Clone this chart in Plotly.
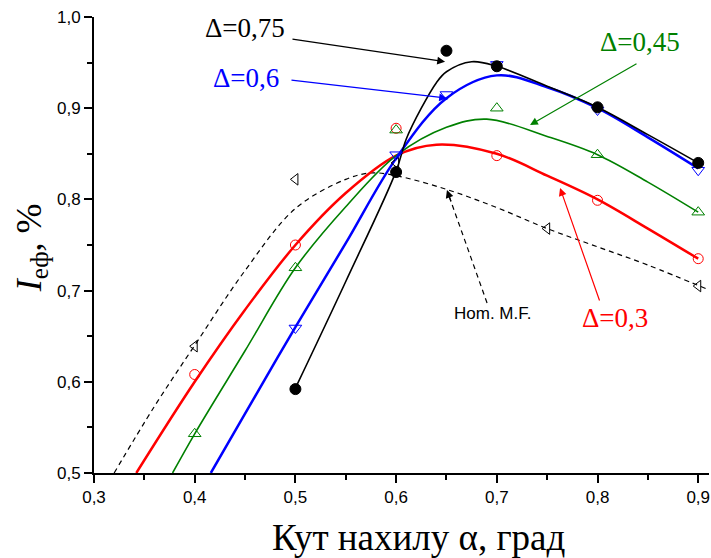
import plotly.graph_objects as go

# ---- measured points (markers) ----
hom_pts_x = [0.40, 0.50, 0.60, 0.75, 0.90]
hom_pts_y = [0.639, 0.822, 0.840, 0.768, 0.705]
red_pts_x = [0.40, 0.50, 0.60, 0.70, 0.80, 0.90]
red_pts_y = [0.608, 0.750, 0.878, 0.848, 0.799, 0.735]
green_pts_x = [0.40, 0.50, 0.60, 0.70, 0.80, 0.90]
green_pts_y = [0.543, 0.725, 0.876, 0.900, 0.849, 0.786]
blue_pts_x = [0.50, 0.60, 0.65, 0.70, 0.80, 0.90]
blue_pts_y = [0.659, 0.849, 0.915, 0.948, 0.898, 0.832]
black_pts_x = [0.50, 0.60, 0.65, 0.70, 0.80, 0.90]
black_pts_y = [0.592, 0.830, 0.963, 0.946, 0.901, 0.840]

# ---- fitted curves ----
hom_x = [0.32, 0.36, 0.40, 0.45, 0.50, 0.55, 0.575, 0.60, 0.65, 0.70, 0.75, 0.80, 0.85, 0.91]
hom_y = [0.50, 0.573, 0.640, 0.722, 0.790, 0.822, 0.829, 0.826, 0.811, 0.791, 0.768, 0.748, 0.728, 0.701]
red_x = [0.342, 0.40, 0.45, 0.50, 0.55, 0.60, 0.64, 0.70, 0.75, 0.80, 0.85, 0.90]
red_y = [0.50, 0.600, 0.679, 0.750, 0.807, 0.848, 0.860, 0.850, 0.826, 0.800, 0.768, 0.735]
green_x = [0.378, 0.40, 0.45, 0.50, 0.55, 0.60, 0.65, 0.69, 0.75, 0.80, 0.85, 0.90]
green_y = [0.50, 0.543, 0.634, 0.725, 0.792, 0.848, 0.879, 0.888, 0.869, 0.849, 0.819, 0.786]
blue_x = [0.416, 0.45, 0.50, 0.55, 0.60, 0.65, 0.70, 0.75, 0.80, 0.85, 0.90]
blue_y = [0.50, 0.565, 0.660, 0.752, 0.845, 0.911, 0.936, 0.923, 0.900, 0.868, 0.834]
black_x = [0.50, 0.55, 0.60, 0.61, 0.625, 0.64, 0.65, 0.675, 0.70, 0.75, 0.80, 0.85, 0.90]
black_y = [0.593, 0.710, 0.831, 0.866, 0.900, 0.928, 0.940, 0.951, 0.946, 0.924, 0.901, 0.871, 0.840]

x_ticks = [0.3, 0.4, 0.5, 0.6, 0.7, 0.8, 0.9]
y_ticks = [0.5, 0.6, 0.7, 0.8, 0.9, 1.0]

SERIF = "Liberation Serif"
SANS = "Liberation Sans"

fig = go.Figure()

def curve(x, y, color, width, dash=None):
    fig.add_trace(go.Scatter(x=x, y=y, mode="lines", line=dict(color=color, width=width, dash=dash,
                                                               shape="spline", smoothing=1.0),
                             hoverinfo="skip", showlegend=False))

def pts(x, y, color, symbol, size, fill=None):
    fig.add_trace(go.Scatter(x=x, y=y, mode="markers",
                             marker=dict(symbol=symbol, size=size, color=fill if fill else color,
                                         line=dict(color=color, width=1)),
                             showlegend=False))

curve(hom_x, hom_y, "black", 1.2, "5px,4px")
curve(red_x, red_y, "#ff0000", 2.5)
curve(green_x, green_y, "#008000", 1.6)
curve(blue_x, blue_y, "#0000ff", 2.5)
curve(black_x, black_y, "black", 1.6)

pts(hom_pts_x, hom_pts_y, "black", "triangle-left-open", 10)
pts(red_pts_x, red_pts_y, "#ff0000", "circle-open", 10)
pts(green_pts_x, green_pts_y, "#008000", "triangle-up-open", 11)
pts(blue_pts_x, blue_pts_y, "#0000ff", "triangle-down-open", 11)
pts(black_pts_x, black_pts_y, "black", "circle", 11, fill="black")

# ---- labels and arrows ----
labels = [
    ("Δ=0,75", 0.450, 0.988, "black", SERIF, 27),
    ("Δ=0,6", 0.451, 0.933, "#0000ff", SERIF, 27),
    ("Δ=0,45", 0.842, 0.973, "#008000", SERIF, 27),
    ("Δ=0,3", 0.817, 0.670, "#ff0000", SERIF, 27),
    ("Hom. M.F.", 0.696, 0.675, "black", SANS, 17),
]
for t, x, y, c, f, s in labels:
    fig.add_annotation(x=x, y=y, text=t, showarrow=False, font=dict(family=f, size=s, color=c),
                       xanchor="center", yanchor="middle")

arrows = [
    (0.4956, 0.976, 0.6486, 0.951, "black"),
    (0.4946, 0.931, 0.6505, 0.911, "#0000ff"),
    (0.8402, 0.9496, 0.733, 0.8816, "#008000"),
    (0.8025, 0.6875, 0.7628, 0.8125, "#ff0000"),
]
for ax, ay, hx, hy, c in arrows:
    fig.add_annotation(x=hx, y=hy, ax=ax, ay=ay, axref="x", ayref="y", xref="x", yref="y",
                       text="", showarrow=True, arrowhead=2, arrowsize=1.3, arrowwidth=1.2,
                       arrowcolor=c, standoff=0, startstandoff=0)

# dashed arrow for Hom. M.F.
fig.add_shape(type="line", x0=0.6903, y0=0.6864, x1=0.652, y1=0.8055,
              line=dict(color="black", width=1.2, dash="5px,4px"), xref="x", yref="y")
fig.add_annotation(x=0.6505, y=0.8103, ax=0.655, ay=0.796, axref="x", ayref="y", xref="x", yref="y",
                   text="", showarrow=True, arrowhead=2, arrowsize=1.3, arrowwidth=1.2,
                   arrowcolor="black", standoff=0)

# axis titles
fig.add_annotation(xref="paper", yref="paper", x=0, y=0.493, xshift=-63, textangle=-90,
                   text="<i>I</i><sub>еф</sub>, %", showarrow=False,
                   font=dict(family=SERIF, size=36, color="black"),
                   xanchor="center", yanchor="middle")
fig.add_annotation(xref="paper", yref="paper", x=0.527, y=0, yshift=-64,
                   text="Кут нахилу α, град", showarrow=False,
                   font=dict(family=SERIF, size=37, color="black"),
                   xanchor="center", yanchor="middle")

fig.update_layout(
    width=711, height=558,
    margin=dict(l=94, r=2, t=17, b=85),
    paper_bgcolor="white", plot_bgcolor="white",
    separators=", ",
    showlegend=False,
    xaxis=dict(range=[0.3, 0.9107], tickvals=x_ticks, tickformat=".1f",
               showline=True, linecolor="black", linewidth=2, mirror=False,
               ticks="outside", ticklen=8, tickwidth=2, tickcolor="black",
               showgrid=False, zeroline=False,
               tickfont=dict(family=SANS, size=17, color="black"),
               minor=dict(tickvals=[0.35, 0.45, 0.55, 0.65, 0.75, 0.85], ticks="outside",
                          ticklen=5, tickwidth=2, tickcolor="black", showgrid=False)),
    yaxis=dict(range=[0.5, 1.0], tickvals=y_ticks, tickformat=".1f",
               showline=True, linecolor="black", linewidth=2, mirror=False,
               ticks="outside", ticklen=8, tickwidth=2, tickcolor="black",
               showgrid=False, zeroline=False,
               tickfont=dict(family=SANS, size=17, color="black"),
               minor=dict(tickvals=[0.55, 0.65, 0.75, 0.85, 0.95], ticks="outside",
                          ticklen=5, tickwidth=2, tickcolor="black", showgrid=False)),
)

fig.write_html("out.html")
